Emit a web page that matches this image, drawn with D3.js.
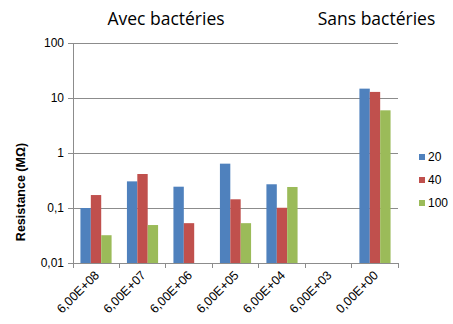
<!DOCTYPE html>
<html>
<head>
<meta charset="utf-8">
<script src="https://cdn.jsdelivr.net/npm/d3@7"></script>
<style>
  html, body { margin: 0; padding: 0; background: #fff; }
  svg { display: block; }
</style>
</head>
<body>
<svg id="chart" width="453" height="324"></svg>
<script>
// Bacterial concentration groups (x axis)
const categories = ["6,00E+08", "6,00E+07", "6,00E+06", "6,00E+05", "6,00E+04", "6,00E+03", "0,00E+00"];
// Series names (legend)
const seriesNames = ["20", "40", "100"];
// Resistance in MΩ for each series; null = no measured value
const values20  = [0.10, 0.305, 0.244, 0.64, 0.27, null, 14.8];
const values40  = [0.172, 0.415, 0.053, 0.144, 0.101, null, 12.9];
const values100 = [0.032, 0.049, null, 0.053, 0.241, null, 5.97];
const yTicks = [0.01, 0.1, 1, 10, 100];
const yTickLabels = ["0,01", "0,1", "1", "10", "100"];
const groupTitles = ["Avec bactéries", "Sans bactéries"];

const colors = ["#4F81BD", "#C0504D", "#9BBB59"];
const seriesValues = [values20, values40, values100];

const svg = d3.select("#chart");
const plot = { left: 73, right: 398, top: 43, bottom: 263 };

const x = d3.scaleBand().domain(categories).range([plot.left, plot.right]).paddingInner(0.33).paddingOuter(0.16);
const xs = d3.scaleBand().domain(seriesNames).range([0, x.bandwidth()]);
const y = d3.scaleLog().domain([0.01, 100]).range([plot.bottom, plot.top]);

const gridColor = "#8c8c8c";

// Horizontal gridlines at each decade
svg.append("g").selectAll("line").data(yTicks).join("line")
  .attr("x1", plot.left).attr("x2", plot.right)
  .attr("y1", d => y(d)).attr("y2", d => y(d))
  .attr("stroke", gridColor).attr("stroke-width", 1).attr("shape-rendering", "crispEdges");

// Bars
seriesValues.forEach((vals, si) => {
  svg.append("g").selectAll("rect")
    .data(categories.map((c, i) => ({ c, v: vals[i] })).filter(d => d.v != null))
    .join("rect")
    .attr("x", d => x(d.c) + xs(seriesNames[si]))
    .attr("width", xs.bandwidth())
    .attr("y", d => y(d.v))
    .attr("height", d => plot.bottom - y(d.v))
    .attr("fill", colors[si]);
});

// Y axis
const yAxis = d3.axisLeft(y).tickValues(yTicks).tickFormat((d, i) => yTickLabels[i]).tickSize(5).tickPadding(4);
const gy = svg.append("g").attr("transform", `translate(${plot.left},0)`).call(yAxis);
gy.select(".domain").attr("stroke", gridColor);
gy.selectAll(".tick line").attr("stroke", gridColor);
gy.selectAll("text").attr("font-family", "Liberation Sans, Arial, sans-serif").attr("font-size", 12).attr("fill", "#000");

// X axis with ticks between categories
const gx = svg.append("g").attr("transform", `translate(0,${plot.bottom})`);
gx.append("line").attr("x1", plot.left).attr("x2", plot.right).attr("stroke", gridColor).attr("shape-rendering", "crispEdges");
gx.selectAll("line.sep").data(d3.range(categories.length + 1)).join("line").attr("class", "sep")
  .attr("x1", i => plot.left + i * (plot.right - plot.left) / categories.length)
  .attr("x2", i => plot.left + i * (plot.right - plot.left) / categories.length)
  .attr("y1", 0).attr("y2", 5).attr("stroke", gridColor).attr("shape-rendering", "crispEdges");
gx.selectAll("text").data(categories).join("text")
  .attr("transform", d => `translate(${x(d) + x.bandwidth() / 2 + 4},${13}) rotate(-45)`)
  .attr("text-anchor", "end")
  .attr("font-family", "Liberation Sans, Arial, sans-serif").attr("font-size", 12.5).attr("fill", "#000")
  .text(d => d);

// Y axis title
svg.append("text")
  .attr("transform", "translate(25,192) rotate(-90)")
  .attr("text-anchor", "middle")
  .attr("font-family", "Liberation Sans, Arial, sans-serif").attr("font-size", 12.5).attr("font-weight", "bold")
  .text("Resistance (MΩ)");

// Legend
const legend = svg.append("g").selectAll("g").data(seriesNames).join("g")
  .attr("transform", (d, i) => `translate(419,${157 + i * 23})`);
legend.append("rect").attr("x", 0).attr("y", -3).attr("width", 6).attr("height", 6).attr("fill", (d, i) => colors[i]);
legend.append("text").attr("x", 9).attr("y", 0).attr("dy", "0.36em")
  .attr("font-family", "Liberation Sans, Arial, sans-serif").attr("font-size", 12).text(d => d);

// Group titles
svg.append("g").selectAll("text").data(groupTitles).join("text")
  .attr("x", (d, i) => [166, 376.5][i]).attr("y", 25)
  .attr("text-anchor", "middle")
  .attr("font-family", "Open Sans, sans-serif").attr("font-size", 17.5)
  .text(d => d);
</script>
</body>
</html>
